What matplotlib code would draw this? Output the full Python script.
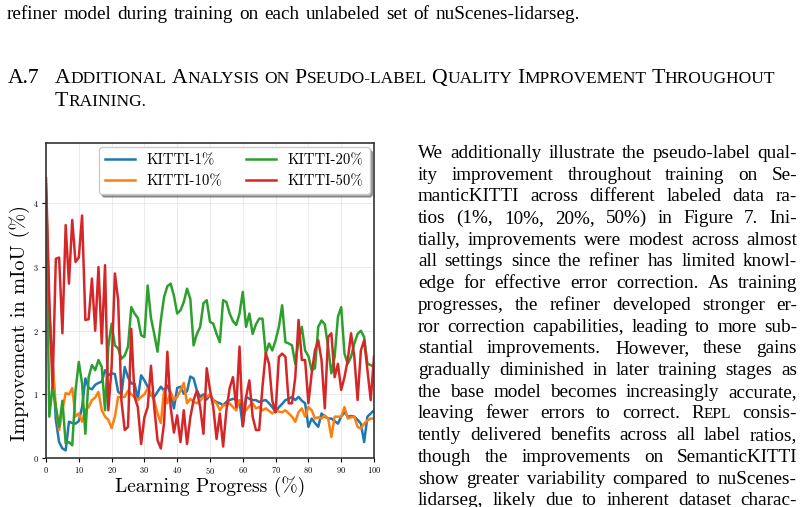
import numpy as np
import matplotlib
matplotlib.use('Agg')
import matplotlib.pyplot as plt

# learning progress (%) and improvement in mIoU (%) per labeled ratio
progress = np.arange(0, 101)

kitti_1 = [4.2, 2.3, 1.5, 0.6, 0.25, 0.15, 0.12, 0.57, 0.55, 0.54,
           0.58, 0.8, 1.25, 1.1, 1.08, 1.15, 1.18, 1.2, 1.38, 1.3,
           1.33, 1.32, 1.04, 1.0, 1.43, 1.27, 1.17, 1.17, 0.93, 1.3,
           1.22, 1.12, 0.98, 0.96, 1.04, 1.12, 1.06, 1.14, 1.01, 0.78,
           1.1, 1.12, 1.01, 1.05, 1.28, 1.25, 1.06, 0.96, 1.0, 0.92,
           0.99, 0.91, 0.88, 0.86, 0.83, 0.88, 0.91, 0.93, 0.92, 0.88,
           0.5, 0.96, 0.93, 0.91, 0.91, 0.88, 0.9, 0.91, 0.86, 0.8,
           0.72, 0.8, 0.85, 0.91, 0.93, 0.96, 0.91, 0.96, 0.9, 0.86,
           0.49, 0.62, 0.55, 0.49, 0.7, 0.65, 0.62, 0.62, 0.58, 0.54,
           0.65, 0.72, 0.65, 0.66, 0.65, 0.6, 0.54, 0.25, 0.65, 0.7,
           0.75]
kitti_10 = [4.3, 2.1, 1.5, 0.8, 0.44, 0.75, 1.02, 1.0, 1.1, 0.65,
            0.7, 0.57, 0.75, 0.8, 0.91, 0.95, 1.04, 0.75, 0.65, 0.6,
            0.47, 0.65, 0.96, 0.96, 0.96, 1.06, 1.0, 0.96, 0.91, 0.96,
            1.0, 1.09, 1.01, 0.91, 0.7, 0.55, 1.06, 0.86, 1.04, 0.91,
            0.96, 1.06, 1.18, 0.86, 0.93, 0.88, 0.86, 0.9, 0.96, 0.96,
            1.0, 0.9, 0.86, 0.75, 0.83, 0.83, 0.86, 0.8, 0.75, 0.91,
            0.86, 0.75, 0.82, 0.86, 0.78, 0.8, 0.75, 0.78, 0.74, 0.7,
            0.75, 0.73, 0.72, 0.75, 0.7, 0.65, 0.57, 0.72, 0.78, 0.65,
            0.8, 0.75, 0.62, 0.64, 0.62, 0.67, 0.62, 0.33, 0.65, 0.65,
            0.65, 0.8, 0.62, 0.64, 0.65, 0.49, 0.46, 0.54, 0.59, 0.62,
            0.62]
kitti_20 = [4.1, 0.65, 1.12, 0.8, 0.49, 0.9, 0.23, 0.25, 0.2, 1.06,
            1.51, 1.17, 0.38, 1.27, 1.46, 1.38, 1.54, 1.43, 0.75, 1.75,
            2.11, 1.77, 1.72, 1.56, 1.61, 1.75, 2.37, 2.27, 2.2, 1.93,
            1.9, 2.71, 2.2, 1.95, 1.67, 2.16, 2.53, 2.7, 2.74, 2.55,
            2.27, 2.32, 2.45, 2.66, 2.5, 1.77, 1.95, 2.06, 2.43, 2.48,
            2.14, 2.11, 1.95, 1.82, 2.48, 2.45, 2.27, 2.15, 2.09, 2.27,
            2.61, 2.06, 2.27, 1.95, 2.1, 2.19, 2.19, 1.64, 1.8, 1.69,
            1.85, 2.06, 2.4, 1.82, 1.8, 1.77, 1.48, 1.85, 2.06, 1.69,
            1.6, 1.38, 1.41, 2.06, 2.16, 2.1, 1.75, 1.33, 1.59, 2.22,
            2.37, 1.64, 1.48, 1.59, 1.8, 1.95, 2.0, 1.9, 1.48, 1.46,
            1.43]
kitti_50 = [4.4, 2.5, 1.1, 3.13, 3.15, 1.96, 3.66, 2.74, 3.74, 3.08,
            3.15, 3.81, 2.17, 2.18, 2.82, 2.0, 3.0, 1.8, 3.03, 0.75,
            1.43, 2.9, 2.48, 0.9, 0.44, 0.49, 2.03, 0.96, 0.8, 0.22,
            0.64, 0.8, 1.45, 0.8, 0.28, 0.15, 0.55, 1.67, 0.8, 0.4,
            0.67, 0.25, 0.75, 0.22, 0.64, 0.91, 1.06, 0.8, 0.38, 1.41,
            1.07, 0.8, 0.3, 0.7, 0.18, 0.75, 1.1, 1.27, 0.8, 1.75,
            0.5, 0.96, 1.22, 0.65, 0.44, 0.44, 1.12, 1.65, 1.48, 0.9,
            0.72, 1.59, 1.64, 1.59, 0.86, 0.86, 1.27, 2.17, 1.54, 1.54,
            0.86, 1.33, 1.69, 1.85, 1.54, 0.78, 1.9, 1.96, 1.27, 1.48,
            1.07, 1.27, 1.54, 1.96, 1.59, 0.91, 1.69, 1.85, 1.38, 0.91,
            1.59]

series = [kitti_1, kitti_10, kitti_20, kitti_50]
labels = ['KITTI-1%', 'KITTI-10%', 'KITTI-20%', 'KITTI-50%']
colors = ['#1f77b4', '#ff7f0e', '#2ca02c', '#d62728']

# page text around the figure
top_line = 'refiner model during training on each unlabeled set of nuScenes-lidarseg.'
heading_num = 'A.7'
heading_1 = 'Additional Analysis on Pseudo-label Quality Improvement Throughout'
heading_2 = 'Training.'
paragraph = [
    'We additionally illustrate the pseudo-label qual-',
    'ity improvement throughout training on Se-',
    'manticKITTI across different labeled data ra-',
    'tios (1%, 10%, 20%, 50%) in Figure 7. Ini-',
    'tially, improvements were modest across almost',
    'all settings since the refiner has limited knowl-',
    'edge for effective error correction. As training',
    'progresses, the refiner developed stronger er-',
    'ror correction capabilities, leading to more sub-',
    'stantial improvements. However, these gains',
    'gradually diminished in later training stages as',
    'the base model becomes increasingly accurate,',
    'leaving fewer errors to correct. ^Repl consis-',
    'tently delivered benefits across all label ratios,',
    'though the improvements on SemanticKITTI',
    'show greater variability compared to nuScenes-',
    'lidarseg, likely due to inherent dataset charac-',
]

W, H = 804, 507
SERIF = 'Liberation Serif'
plt.rcParams['axes.formatter.use_mathtext'] = True

fig = plt.figure(figsize=(W / 100, H / 100), dpi=100)
renderer = fig.canvas.get_renderer()


def fx(px):
    return px / W


def fy(py):
    return 1 - py / H


def run_width(s, size):
    t = fig.text(0, 0, s, fontsize=size, family=SERIF)
    w = t.get_window_extent(renderer).width
    t.remove()
    return w


def smallcaps(word, size, ratio=0.8):
    runs = []
    for ch in word:
        if ch.isalpha():
            sz = size if ch.isupper() else size * ratio
        else:
            sz = runs[-1][1] if runs else size
        c = ch.upper()
        if runs and runs[-1][1] == sz:
            runs[-1] = (runs[-1][0] + c, sz)
        else:
            runs.append((c, sz))
    return runs


def token_runs(word, size):
    if word.startswith('^'):
        return smallcaps(word[1:], size)
    return [(word, size)]


def put_runs(x, y, runs, draw=True):
    for s, size in runs:
        if draw:
            fig.text(fx(x), fy(y), s, fontsize=size, family=SERIF,
                     va='baseline', ha='left')
        x += run_width(s, size)
    return x


def put_line(x0, y, words, size, width=None, gap=None):
    toks = [token_runs(w, size) for w in words]
    widths = [sum(run_width(s, sz) for s, sz in t) for t in toks]
    if width is not None and len(toks) > 1:
        gap = (width - sum(widths)) / (len(toks) - 1)
    x = x0
    for t, w in zip(toks, widths):
        put_runs(x, y, t)
        x += w + gap


BODY = 13.8

# top line (end of previous paragraph)
put_line(7, 19, top_line.split(' '), BODY, gap=6.0)

# section heading in small caps, spread over the text width
hs = 15.6
put_runs(8, 83, [(heading_num, hs)])
hwords = heading_1.split(' ')
hw = [put_runs(0, 0, smallcaps(w, hs), draw=False) for w in hwords]
hgap = (775 - 55 - sum(hw)) / (len(hwords) - 1)
x = 55
for w, wd in zip(hwords, hw):
    put_runs(x, 83, smallcaps(w, hs))
    x += wd + hgap
put_runs(55, 106, smallcaps(heading_2, hs))

# justified paragraph on the right
for i, line in enumerate(paragraph):
    put_line(418, 158 + i * 21.7, line.split(' '), BODY, width=379)

# chart
plt.rcParams['font.family'] = 'cmr10'
ax = fig.add_axes([fx(46), fy(458), fx(374) - fx(46), fy(143) - fy(458)])
for vals, lab, col in zip(series, labels, colors):
    ax.plot(progress, vals, color=col, lw=1.8, label=lab)

ax.set_xlim(0, 100)
ax.set_ylim(0, 4.95)
ax.set_xticks(np.arange(0, 101, 10))
ax.set_yticks([0, 1, 2, 3, 4])
ax.grid(True, color='#dddddd', lw=0.6, alpha=0.7)
ax.tick_params(labelsize=6, length=3, width=0.8, pad=2)
for sp in ax.spines.values():
    sp.set_color('#333333')
    sp.set_linewidth(1.2)
ax.set_xlabel('Learning Progress (%)', fontsize=14, family='cmr10', labelpad=0)
ax.set_ylabel('Improvement in mIoU (%)', fontsize=14.5, family='cmr10')
ax.yaxis.set_label_coords(-0.05, 0.43)
ax.legend(loc='upper right', ncol=2, shadow=True,
          prop={'family': 'cmr10', 'size': 10.7}, borderaxespad=0.3,
          columnspacing=1.6, handlelength=2.0, framealpha=1.0)

fig.savefig('out.png', dpi=100)
